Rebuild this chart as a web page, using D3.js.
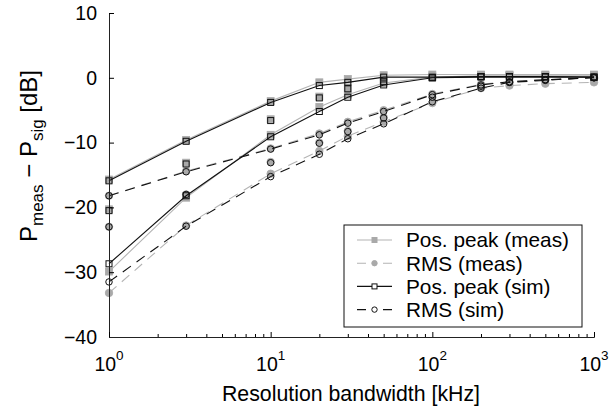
<!DOCTYPE html>
<html><head><meta charset="utf-8">
<script src="https://cdn.jsdelivr.net/npm/d3@7"></script>
<style>
body{margin:0;background:#fff}
text{font-family:"Liberation Sans",Arial,Helvetica,sans-serif;fill:#000}
</style>
</head><body>
<svg id="chart" width="614" height="409"></svg>
<script>
// ---- data ----
const rbw = [1, 3, 10, 20, 30, 50, 100, 200, 300, 500, 1000];
// group A (upper curves), group B (markers only), group C (lower curves)
const peakSimA  = [-15.9, -9.8, -3.8, -1.2, -0.7, 0.1, 0.1, 0.2, 0.2, 0.2, 0.1];
const peakMeasA = [-15.7, -9.6, -3.6, -0.7, -0.2, 0.4, 0.5, 0.5, 0.5, 0.5, 0.5];
const peakSimB  = [-20.5, -13.3, -6.6, -3.1, -1.7, -0.6, 0.0, 0.2, 0.2, 0.2, 0.1];
const peakMeasB = [-20.3, -13.1, -6.4, -2.9, -1.5, -0.4, 0.2, 0.4, 0.4, 0.4, 0.3];
const peakSimC  = [-28.7, -18.2, -9.1, -5.2, -3.0, -1.1, 0.0, 0.1, 0.1, 0.1, 0.1];
const peakMeasC = [-29.9, -18.5, -8.8, -4.5, -2.6, -0.8, 0.1, 0.3, 0.3, 0.3, 0.3];
const rmsSimA   = [-18.2, -14.5, -11.0, -8.8, -7.0, -5.2, -2.6, -1.1, -0.6, -0.3, 0.0];
const rmsMeasA  = [-18.2, -14.4, -10.9, -8.6, -6.8, -5.0, -2.5, -1.0, -0.6, -0.3, 0.0];
const rmsSimB   = [-23.0, -18.0, -13.1, -10.1, -8.3, -6.2, -3.0, -1.3, -0.7, -0.3, 0.0];
const rmsMeasB  = [-23.0, -18.0, -13.0, -10.0, -8.2, -6.1, -3.0, -1.3, -0.8, -0.4, -0.1];
const rmsSimC   = [-31.5, -22.9, -15.25, -11.8, -9.4, -7.1, -3.7, -1.6, -0.7, -0.4, 0.1];
const rmsMeasC  = [-33.2, -22.8, -14.8, -11.3, -9.0, -6.8, -3.9, -1.6, -1.2, -0.9, -0.7];

const yTicks = [-40, -30, -20, -10, 0, 10];
const xMajor = [1, 10, 100, 1000];
const xMajorExp = ["0", "1", "2", "3"];
const legendLabels = ["Pos. peak (meas)", "RMS (meas)", "Pos. peak (sim)", "RMS (sim)"];
const xLabel = "Resolution bandwidth [kHz]";

// ---- layout ----
const svg = d3.select("#chart");
const x = d3.scaleLog().domain([1, 1000]).range([109, 594]);
const y = d3.scaleLinear().domain([-40, 10]).range([337, 13]);
const GRAY = "#b4b4b4", GRAYM = "#a9a9a9", BLACK = "#111";
const DASH = "10,7";

const line = d3.line().x((d, i) => x(rbw[i])).y(d => y(d));

function drawLine(vals, color, dash) {
  svg.append("path").attr("d", line(vals)).attr("fill", "none")
    .attr("stroke", color).attr("stroke-width", 1.1)
    .attr("stroke-dasharray", dash || null);
}
function drawMarkers(vals, shape, filled, size) {
  const g = svg.append("g");
  vals.forEach((v, i) => {
    const cx = x(rbw[i]), cy = y(v);
    let el;
    if (shape === "sq") {
      el = g.append("rect").attr("x", cx - size / 2).attr("y", cy - size / 2)
        .attr("width", size).attr("height", size);
    } else {
      el = g.append("circle").attr("cx", cx).attr("cy", cy).attr("r", size / 2);
    }
    if (filled) el.attr("fill", GRAYM).attr("stroke", GRAYM).attr("stroke-width", 0.8);
    else el.attr("fill", "none").attr("stroke", BLACK).attr("stroke-width", 1);
  });
}

// measured (gray) first
drawLine(peakMeasA, GRAY); drawLine(peakMeasC, GRAY);
drawLine(rmsMeasA, GRAY, DASH); drawLine(rmsMeasC, GRAY, DASH);
[peakMeasA, peakMeasB, peakMeasC].forEach(s => drawMarkers(s, "sq", true, 7));
[rmsMeasA, rmsMeasB, rmsMeasC].forEach(s => drawMarkers(s, "ci", true, 7.5));
// simulated (black)
drawLine(peakSimA, BLACK); drawLine(peakSimC, BLACK);
drawLine(rmsSimA, BLACK, DASH); drawLine(rmsSimC, BLACK, DASH);
[peakSimA, peakSimB, peakSimC].forEach(s => drawMarkers(s, "sq", false, 6));
[rmsSimA, rmsSimB, rmsSimC].forEach(s => drawMarkers(s, "ci", false, 6.5));

// ---- axes ----
const yAxis = d3.axisLeft(y).tickValues(yTicks).tickSizeInner(-5).tickSizeOuter(0).tickPadding(12);
const gy = svg.append("g").attr("transform", "translate(109,0)").call(yAxis);
gy.selectAll("text").style("font-size", "19.5px").style("font-family", '"Liberation Sans",Arial,sans-serif');
gy.select(".domain").attr("stroke", "#222");

const xMinor = [];
[1, 10, 100].forEach(d => { for (let k = 2; k <= 9; k++) xMinor.push(d * k); });
const gxMin = svg.append("g").attr("transform", "translate(0,337)")
  .call(d3.axisBottom(x).tickValues(xMinor).tickSizeInner(-3).tickSizeOuter(0).tickFormat(""));
const gx = svg.append("g").attr("transform", "translate(0,337)")
  .call(d3.axisBottom(x).tickValues(xMajor).tickSizeInner(-5).tickSizeOuter(0).tickFormat(""));
gx.select(".domain").attr("stroke", "#222");
gxMin.select(".domain").attr("stroke", "#222");

xMajor.forEach((v, i) => {
  const t = svg.append("text").attr("x", x(v)).attr("y", 370.5)
    .attr("text-anchor", "middle").style("font-size", "19.5px");
  t.append("tspan").text("10");
  t.append("tspan").attr("dy", -11).style("font-size", "13.5px").text(xMajorExp[i]);
});

svg.append("text").attr("x", 351).attr("y", 401).attr("text-anchor", "middle")
  .style("font-size", "21.3px").text(xLabel);

const yl = svg.append("text").attr("transform", "translate(37,156) rotate(-90)")
  .attr("text-anchor", "middle").style("font-size", "24px");
yl.append("tspan").text("P");
yl.append("tspan").attr("dy", 5.5).style("font-size", "17px").text("meas");
yl.append("tspan").attr("dy", -5.5).text(" \u2212 P");
yl.append("tspan").attr("dy", 5.5).style("font-size", "17px").text("sig");
yl.append("tspan").attr("dy", -5.5).text(" [dB]");

// ---- legend ----
const lg = svg.append("g");
lg.append("rect").attr("x", 344).attr("y", 225).attr("width", 238).attr("height", 102)
  .attr("fill", "#fff").attr("stroke", "#111").attr("stroke-width", 1);
const legStyle = [
  {c: GRAY, dash: null, shape: "sq", filled: true},
  {c: GRAY, dash: "9,17", shape: "ci", filled: true},
  {c: BLACK, dash: null, shape: "sq", filled: false},
  {c: BLACK, dash: "9,17", shape: "ci", filled: false}
];
legendLabels.forEach((lab, i) => {
  const cy = 240 + i * 23.2;
  const s = legStyle[i];
  lg.append("line").attr("x1", 357).attr("x2", 392).attr("y1", cy).attr("y2", cy)
    .attr("stroke", s.c).attr("stroke-width", 1.1).attr("stroke-dasharray", s.dash);
  const mx = 374.5;
  let m;
  if (s.shape === "sq") m = lg.append("rect").attr("x", mx - 2.5).attr("y", cy - 2.5).attr("width", 5).attr("height", 5);
  else m = lg.append("circle").attr("cx", mx).attr("cy", cy).attr("r", 2.7);
  if (s.filled) m.attr("fill", GRAYM).attr("stroke", GRAYM);
  else m.attr("fill", "#fff").attr("stroke", BLACK);
  lg.append("text").attr("x", 406).attr("y", cy + 7.3).style("font-size", "20.8px").text(lab);
});
</script>
</body></html>
